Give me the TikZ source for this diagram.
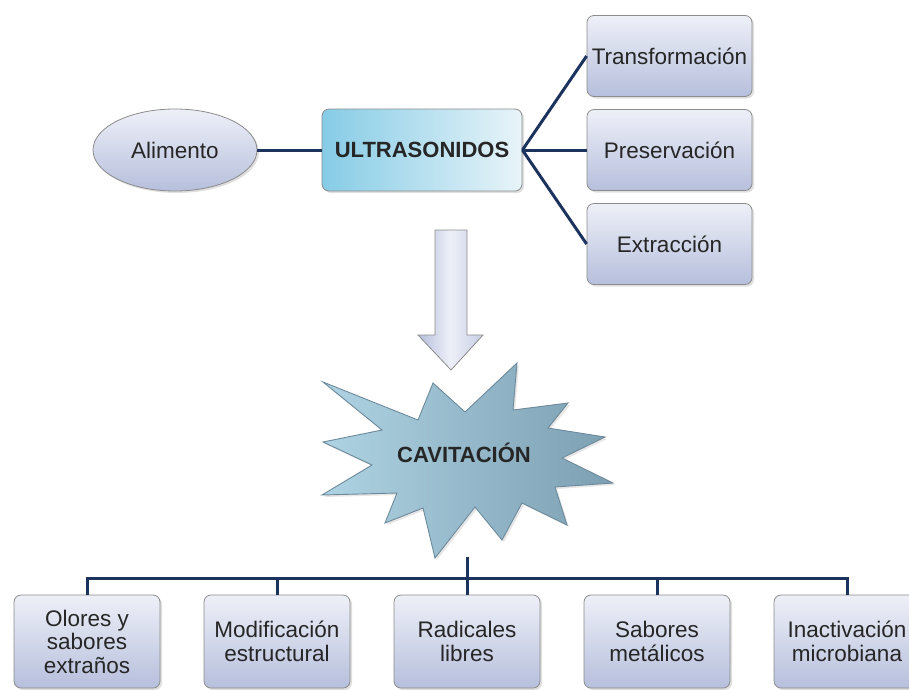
\documentclass[tikz,border=0pt]{standalone}
\usepackage{fontspec}
\setmainfont{Liberation Sans}
\usetikzlibrary{shadows,shapes.geometric}
\definecolor{navy}{HTML}{1C335E}
\definecolor{boxtop}{HTML}{EEF0F8}
\definecolor{boxbot}{HTML}{B6BFDC}
\definecolor{boxedge}{HTML}{8C8C8C}
\definecolor{ultraL}{HTML}{86CCE6}
\definecolor{ultraR}{HTML}{E8F4F9}
\definecolor{starL}{HTML}{AED3E2}
\definecolor{starR}{HTML}{7C9FB2}
\definecolor{staredge}{HTML}{6C8A9C}
\tikzset{
  txt/.style={font=\fontsize{22.5}{23.5}\selectfont, text=black!85, align=center},
  pbox/.style={txt, draw=boxedge, line width=0.8pt, rounded corners=7pt,
    top color=boxtop, bottom color=boxbot,
    drop shadow={opacity=0.25, shadow xshift=2pt, shadow yshift=-2pt},
    minimum width=165pt, minimum height=81pt, inner sep=0pt},
  bbox/.style={pbox, minimum width=146pt, minimum height=93pt},
  link/.style={draw=navy, line width=3pt}
}
\begin{document}
\begin{tikzpicture}[x=1pt,y=-1pt]
\useasboundingbox (0,0) rectangle (909,689);
% Alimento
\node[txt, ellipse, draw=boxedge, line width=0.8pt, top color=boxtop, bottom color=boxbot,
  drop shadow={opacity=0.25, shadow xshift=2pt, shadow yshift=-2pt},
  minimum width=164pt, minimum height=82pt, inner sep=0pt] (ali) at (175,150) {Alimento};
% ULTRASONIDOS
\node[txt, draw=boxedge, line width=0.8pt, rounded corners=7pt, left color=ultraL, right color=ultraR,
  drop shadow={opacity=0.25, shadow xshift=2pt, shadow yshift=-2pt},
  minimum width=200pt, minimum height=82pt, inner sep=0pt, font=\fontsize{22}{23.5}\selectfont\bfseries] (ultra) at (422,150) {ULTRASONIDOS};
% right boxes
\node[pbox] (tra) at (669.5,56) {Transformación};
\node[pbox] (pre) at (669.5,150) {Preservación};
\node[pbox] (ext) at (669.5,244) {Extracción};
\draw[link] (ali.east) -- (ultra.west);
\draw[link] (ultra.east) -- (tra.west);
\draw[link] (ultra.east) -- (pre.west);
\draw[link] (ultra.east) -- (ext.west);
% big arrow
\path[draw=boxedge, line width=0.8pt, left color=boxbot, right color=boxbot!70!boxtop, middle color=boxtop]
  (435,230) -- (467,230) -- (467,335) -- (483,335) -- (451,370) -- (418,335) -- (435,335) -- cycle;
% star
\path[draw=staredge, line width=0.9pt, left color=starL, right color=starR,
  drop shadow={opacity=0.2, shadow xshift=2pt, shadow yshift=-2pt}]
  (323,382) -- (418,420) -- (433,383) -- (465,412) -- (517,363) -- (513,410) -- (568,403)
  -- (548,428) -- (605,437) -- (562,458) -- (613,483) -- (555,487) -- (567,525) -- (522,503)
  -- (502,540) -- (475,507) -- (435,558) -- (423,508) -- (385,523) -- (397,493) -- (322,495)
  -- (372,465) -- (323,442) -- (382,430) -- cycle;
\node[txt, font=\fontsize{22}{23.5}\selectfont\bfseries] (cav) at (464,453) {CAVITACIÓN};
\coordinate (starbot) at (467,557);
\coordinate (bus) at (467,578);
% bottom boxes
\node[bbox] (b1) at (87,641.5) {Olores y\\sabores\\extraños};
\node[bbox] (b2) at (277,641.5) {Modificación\\estructural};
\node[bbox] (b3) at (467,641.5) {Radicales\\libres};
\node[bbox] (b4) at (657,641.5) {Sabores\\metálicos};
\node[bbox] (b5) at (847,641.5) {Inactivación\\microbiana};
\draw[link] (starbot) -- (bus);
\draw[link] (b1.north) -- (b1.north |- bus) -- (b5.north |- bus) -- (b5.north);
\foreach \b in {b2,b3,b4} \draw[link] (\b.north) -- (\b.north |- bus);
\end{tikzpicture}
\end{document}
